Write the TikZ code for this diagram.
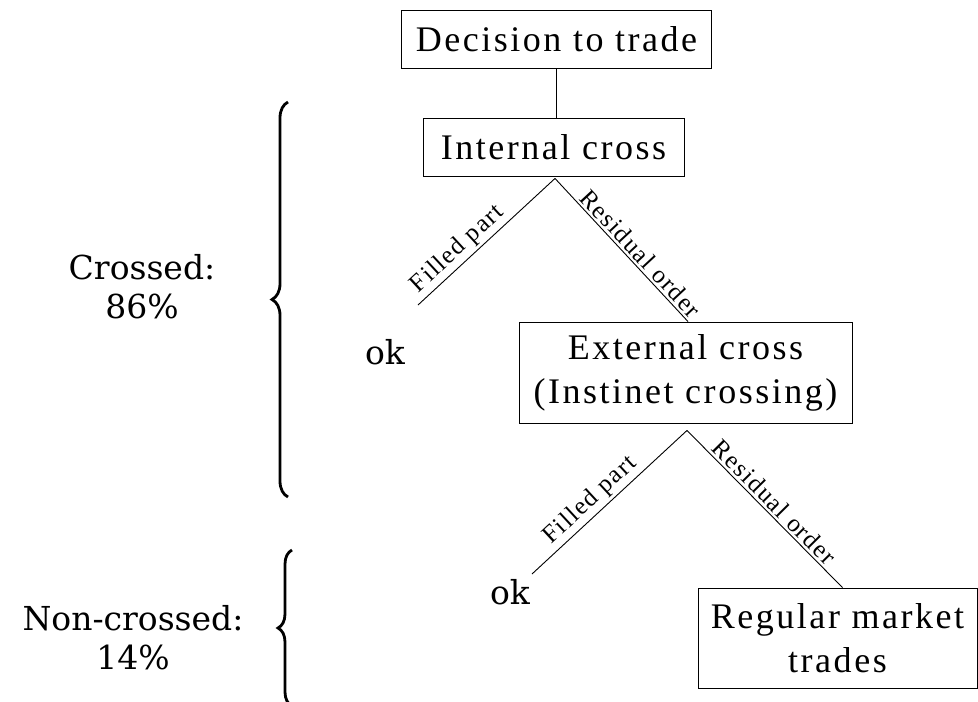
\documentclass[tikz,border=0pt]{standalone}
\usepackage{fontspec}
\setmainfont{Liberation Serif}
\newfontfamily\boxfont[LetterSpace=7]{Liberation Serif}
\newfontfamily\lblfont[LetterSpace=6]{Liberation Serif}
\newfontfamily\widefont{DejaVu Serif}
\usetikzlibrary{decorations.pathreplacing}
\begin{document}
\begin{tikzpicture}[x=1pt,y=-1pt,
  boxnode/.style={draw,line width=0.9pt,align=center,inner sep=0pt,font=\boxfont\fontsize{36}{44}\selectfont},
  oktext/.style={font=\widefont\fontsize{33}{38}\selectfont},
  sidetext/.style={align=center,font=\widefont\fontsize{33}{39}\selectfont},
  branch/.style={line width=0.9pt},
  edgelbl/.style={sloped,above,inner sep=2.5pt,font=\lblfont\fontsize{25}{28}\selectfont},
  bigbrace/.style={line width=2.8pt,decorate,decoration={brace,amplitude=16pt}}
]
\useasboundingbox (0,0) rectangle (978,702);
\node[boxnode,minimum width=310,minimum height=58] (dec) at (556.5,39) {Decision to trade};
\node[boxnode,minimum width=261,minimum height=58] (int) at (553.5,147) {Internal cross};
\node[boxnode,minimum width=333,minimum height=101] (ext) at (685.5,372.5) {External cross\\(Instinet crossing)};
\node[boxnode,minimum width=279,minimum height=100] (reg) at (837.5,638) {Regular market\\trades};
\node[oktext] (ok1) at (385,352) {ok};
\node[oktext] (ok2) at (510,592) {ok};
\node[sidetext] (cr) at (142,287) {Crossed:\\86\%};
\node[sidetext] (nc) at (133,638) {Non-crossed:\\14\%};

\coordinate (t1) at (dec.south);
\coordinate (s1) at ([xshift=1.5pt,yshift=-2pt]int.south);
\coordinate (e1) at (418,305);
\coordinate (s2) at ([xshift=1.5pt,yshift=-7pt]ext.south);
\coordinate (e2) at (532,574);
\coordinate (e3) at ([xshift=5pt]reg.north);

\draw[branch] (t1) -- (t1 |- int.north);
\draw[branch] (s1) -- node[edgelbl,pos=0.64] {Filled part} (e1);
\draw[branch] (s1) -- node[edgelbl,pos=0.58] {Residual order} ([xshift=2.5pt]ext.north);
\draw[branch] (s2) -- node[edgelbl,pos=0.56] {Filled part} (e2);
\draw[branch] (s2) -- node[edgelbl,pos=0.51] {Residual order} (e3);

\coordinate (b1a) at (288,497);
\coordinate (b1b) at (288,102);
\coordinate (b2a) at (292,706);
\coordinate (b2b) at (292,550);
\draw[bigbrace] (b1a) -- (b1b);
\begin{scope}
\clip (0,0) rectangle (978,702);
\draw[bigbrace,decoration={amplitude=14pt}] (b2a) -- (b2b);
\end{scope}
\end{tikzpicture}
\end{document}
